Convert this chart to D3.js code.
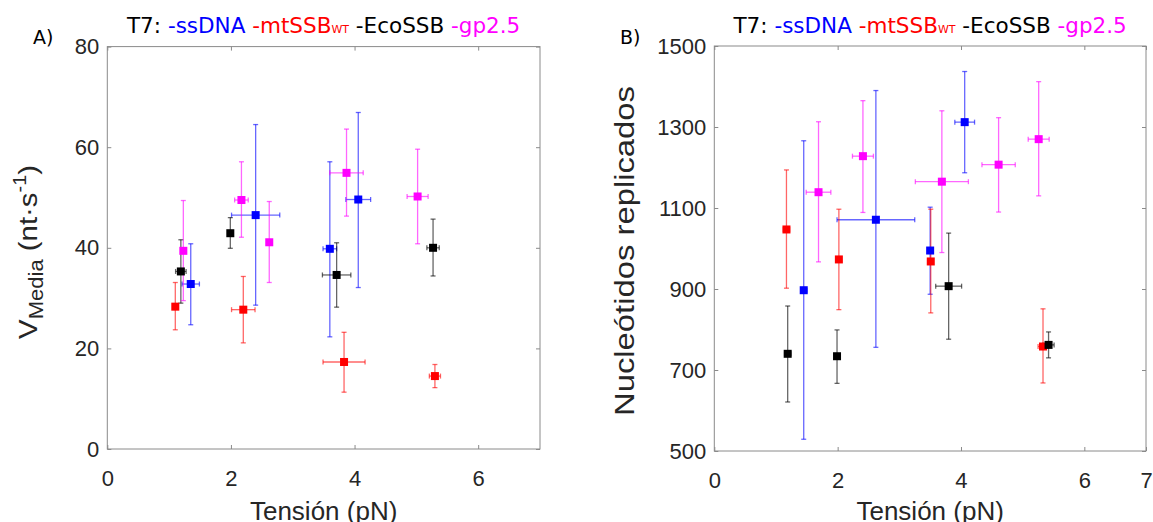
<!DOCTYPE html>
<html>
<head>
<meta charset="utf-8">
<script src="https://cdn.jsdelivr.net/npm/d3@7"></script>
<style>
  body { margin: 0; background: #fff; }
  svg { display: block; }
  .tick text { font-family: "Liberation Sans", Arial, sans-serif; font-size: 22px; fill: #262626; }
  .tick line { stroke: #8a8a8a; }
</style>
</head>
<body>
<div id="chart"></div>
<script>
// series order = drawing order
const seriesNames = ["ssDNA", "mtSSB", "EcoSSB", "gp2.5"];
const seriesColors = ["#0000ff", "#ff0000", "#000000", "#ff00ff"];

// rows: [series, tension (pN), tension error, value, lower bound, upper bound]
const velocidadData = [
  ["ssDNA", 1.35, 0.14, 32.8, 24.7, 40.8],
  ["ssDNA", 2.40, 0.39, 46.5, 28.6, 64.5],
  ["ssDNA", 3.60, 0.11, 39.8, 22.3, 57.1],
  ["ssDNA", 4.06, 0.20, 49.6, 32.1, 66.9],
  ["mtSSB", 1.10, 0.04, 28.3, 23.7, 33.1],
  ["mtSSB", 2.20, 0.19, 27.7, 21.1, 34.3],
  ["mtSSB", 3.83, 0.34, 17.3, 11.3, 23.2],
  ["mtSSB", 5.30, 0.09, 14.5, 12.2, 16.8],
  ["EcoSSB", 1.19, 0.085, 35.3, 29.0, 41.6],
  ["EcoSSB", 1.99, 0.03, 42.9, 39.9, 46.0],
  ["EcoSSB", 3.71, 0.23, 34.6, 28.2, 41.0],
  ["EcoSSB", 5.27, 0.10, 40.0, 34.4, 45.7],
  ["gp2.5", 1.23, 0.03, 39.4, 29.5, 49.4],
  ["gp2.5", 2.17, 0.11, 49.5, 42.1, 57.1],
  ["gp2.5", 2.62, 0.03, 41.1, 33.1, 49.2],
  ["gp2.5", 3.87, 0.27, 54.9, 46.3, 63.6],
  ["gp2.5", 5.02, 0.17, 50.2, 40.8, 59.6]
];

const nucleotidosData = [
  ["ssDNA", 1.45, 0.05, 897, 529, 1266],
  ["ssDNA", 2.62, 0.63, 1071, 756, 1390],
  ["ssDNA", 3.50, 0.03, 995, 887, 1102],
  ["ssDNA", 4.06, 0.16, 1312, 1187, 1437],
  ["mtSSB", 1.17, 0.05, 1047, 902, 1194],
  ["mtSSB", 2.02, 0.02, 973, 849, 1097],
  ["mtSSB", 3.51, 0.02, 968, 841, 1097],
  ["mtSSB", 5.33, 0.08, 758, 668, 851],
  ["EcoSSB", 1.19, 0.05, 740, 621, 858],
  ["EcoSSB", 1.99, 0.02, 734, 667, 799],
  ["EcoSSB", 3.80, 0.21, 907, 776, 1038],
  ["EcoSSB", 5.42, 0.09, 762, 730, 794],
  ["gp2.5", 1.69, 0.20, 1139, 967, 1313],
  ["gp2.5", 2.41, 0.17, 1228, 1089, 1365],
  ["gp2.5", 3.69, 0.43, 1165, 990, 1340],
  ["gp2.5", 4.61, 0.27, 1207, 1090, 1323],
  ["gp2.5", 5.26, 0.17, 1270, 1130, 1412]
];

const xDomain = [0, 7];
const xTicksA = [0, 2, 4, 6];
const xTicksB = [0, 2, 4, 6, 7];
const yDomainA = [0, 80];
const yTicksA = [0, 20, 40, 60, 80];
const yDomainB = [500, 1500];
const yTicksB = [500, 700, 900, 1100, 1300, 1500];

const svg = d3.select("#chart")
    .append("svg")
    .attr("width", 1153)
    .attr("height", 522);

svg.append("rect").attr("width", 1153).attr("height", 522).attr("fill", "#fff");

const color = d3.scaleOrdinal().domain(seriesNames).range(seriesColors);
const labelFont = "'Liberation Sans', Arial, sans-serif";
const titleFont = "'DejaVu Sans', sans-serif";

function drawPanel(p) {
    const x = d3.scaleLinear().domain(xDomain).range([p.left, p.right]);
    const y = d3.scaleLinear().domain(p.yDomain).range([p.bottom, p.top]);
    const g = svg.append("g");

    // box
    g.append("rect")
        .attr("x", p.left).attr("y", p.top)
        .attr("width", p.right - p.left).attr("height", p.bottom - p.top)
        .attr("fill", "none").attr("stroke", "#8a8a8a");

    // axes, ticks pointing inwards
    g.append("g").attr("transform", "translate(0," + p.bottom + ")")
        .call(d3.axisBottom(x).tickValues(p.xTicks).tickFormat(d3.format("d"))
            .tickSizeInner(-4).tickSizeOuter(0).tickPadding(21))
        .call(a => a.select(".domain").remove());
    g.append("g").attr("transform", "translate(0," + p.top + ")")
        .call(d3.axisTop(x).tickValues(p.xTicks).tickFormat("")
            .tickSizeInner(-4).tickSizeOuter(0))
        .call(a => a.select(".domain").remove());
    g.append("g").attr("transform", "translate(" + p.left + ",0)")
        .call(d3.axisLeft(y).tickValues(p.yTicks).tickFormat(d3.format("d"))
            .tickSizeInner(-4).tickSizeOuter(0).tickPadding(8))
        .call(a => a.select(".domain").remove());
    g.append("g").attr("transform", "translate(" + p.right + ",0)")
        .call(d3.axisRight(y).tickValues(p.yTicks).tickFormat("")
            .tickSizeInner(-4).tickSizeOuter(0))
        .call(a => a.select(".domain").remove());

    // error bars
    const cap = 2.5;
    const bars = g.append("g").selectAll("g")
        .data(p.data)
        .join("g")
        .attr("stroke", d => color(d[0]))
        .attr("stroke-opacity", 0.6)
        .attr("stroke-width", 1.3);

    bars.append("line")
        .attr("x1", d => x(d[1])).attr("x2", d => x(d[1]))
        .attr("y1", d => y(d[4])).attr("y2", d => y(d[5]));
    bars.append("line")
        .attr("x1", d => x(d[1]) - cap).attr("x2", d => x(d[1]) + cap)
        .attr("y1", d => y(d[4])).attr("y2", d => y(d[4]));
    bars.append("line")
        .attr("x1", d => x(d[1]) - cap).attr("x2", d => x(d[1]) + cap)
        .attr("y1", d => y(d[5])).attr("y2", d => y(d[5]));
    bars.append("line")
        .attr("x1", d => x(d[1] - d[2])).attr("x2", d => x(d[1] + d[2]))
        .attr("y1", d => y(d[3])).attr("y2", d => y(d[3]));
    bars.append("line")
        .attr("x1", d => x(d[1] - d[2])).attr("x2", d => x(d[1] - d[2]))
        .attr("y1", d => y(d[3]) - cap).attr("y2", d => y(d[3]) + cap);
    bars.append("line")
        .attr("x1", d => x(d[1] + d[2])).attr("x2", d => x(d[1] + d[2]))
        .attr("y1", d => y(d[3]) - cap).attr("y2", d => y(d[3]) + cap);

    // square markers
    const m = 8;
    g.append("g").selectAll("rect")
        .data(p.data)
        .join("rect")
        .attr("x", d => x(d[1]) - m / 2)
        .attr("y", d => y(d[3]) - m / 2)
        .attr("width", m).attr("height", m)
        .attr("fill", d => color(d[0]));

    // x label (bottom slightly cut, as in the original)
    g.append("text")
        .attr("x", (p.left + p.right) / 2).attr("y", 520)
        .attr("text-anchor", "middle")
        .attr("font-family", labelFont).attr("font-size", 26).attr("fill", "#262626")
        .text("Tensión (pN)");

    // title
    const t = g.append("text")
        .attr("x", (p.left + p.right) / 2).attr("y", 33)
        .attr("text-anchor", "middle")
        .attr("font-family", titleFont).attr("font-size", 21.5);
    t.append("tspan").attr("fill", "#000").text("T7: ");
    t.append("tspan").attr("fill", "#0000ff").text("-ssDNA ");
    t.append("tspan").attr("fill", "#ff0000").text("-mtSSB");
    t.append("tspan").attr("fill", "#ff0000").attr("font-size", 11).text("WT");
    t.append("tspan").attr("fill", "#000").text(" -EcoSSB ");
    t.append("tspan").attr("fill", "#ff00ff").text("-gp2.5");

    // panel letter
    g.append("text")
        .attr("x", p.letterX).attr("y", 44)
        .attr("font-family", titleFont).attr("font-size", 19).attr("fill", "#000")
        .text(p.letter);

    return g;
}

const gA = drawPanel({
    left: 107.3, right: 540, top: 46.6, bottom: 449,
    yDomain: yDomainA, yTicks: yTicksA, xTicks: xTicksA,
    data: velocidadData, letter: "A)", letterX: 33
});

const gB = drawPanel({
    left: 714.3, right: 1146, top: 46, bottom: 451,
    yDomain: yDomainB, yTicks: yTicksB, xTicks: xTicksB,
    data: nucleotidosData, letter: "B)", letterX: 620
});

// y labels
const yl = gA.append("text")
    .attr("transform", "translate(37,252) rotate(-90) scale(1.13,1)")
    .attr("text-anchor", "middle")
    .attr("font-family", labelFont).attr("font-size", 26).attr("fill", "#262626");
yl.append("tspan").text("V");
yl.append("tspan").attr("font-size", 19.5).attr("dy", 6).text("Media");
yl.append("tspan").attr("dy", -6).text(" (nt·s");
yl.append("tspan").attr("font-size", 17.5).attr("dy", -11).text("-1");
yl.append("tspan").attr("dy", 11).text(")");

gB.append("text")
    .attr("transform", "translate(634,251) rotate(-90)")
    .attr("text-anchor", "middle")
    .attr("font-family", labelFont).attr("font-size", 27).attr("fill", "#262626")
    .attr("textLength", 330).attr("lengthAdjust", "spacingAndGlyphs")
    .text("Nucleótidos replicados");
</script>
</body>
</html>
